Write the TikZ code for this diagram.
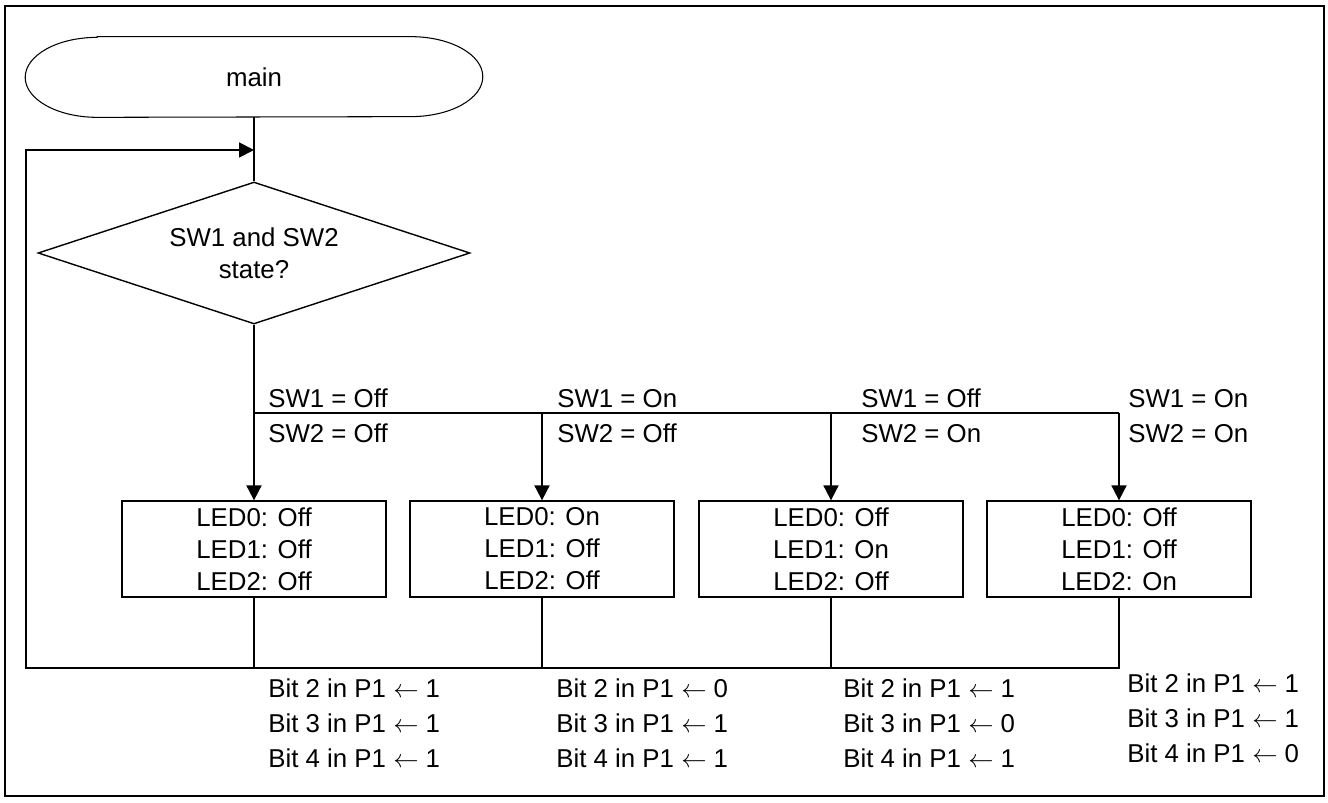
\documentclass[tikz,border=0pt]{standalone}
\usepackage{fontspec}
\setmainfont{Liberation Sans}
\usetikzlibrary{shapes.geometric,arrows.meta}
\begin{document}
\begin{tikzpicture}[x=.02cm,y=-.02cm,font=\fontsize{14.7}{18.2}\selectfont,
  thk/.style={line width=1.1pt},
  thn/.style={line width=.6pt},
  tip/.style={-{Triangle[length=8.5pt,width=8.5pt]}},
  decision/.style={diamond,draw,line width=.8pt,aspect=3,inner sep=0pt,minimum width=8.64cm,minimum height=2.84cm,align=center},
  ledbox/.style={draw,line width=.75pt,minimum width=5.28cm,minimum height=1.92cm,inner sep=0pt,align=center},
  cond/.style={anchor=base west,inner sep=0pt}]
  \useasboundingbox (0,0) rectangle (1328,803);
  \draw[line width=1.1pt] (5,6) rectangle (1324,796);
  \node[minimum width=9.14cm,minimum height=1.6cm,inner sep=0pt] (main) at (254,77) {main};
  \draw[thn] ([xshift=1.44cm]main.north west) -- ([xshift=-1.44cm]main.north east)
    arc[start angle=90,end angle=-90,x radius=1.44cm,y radius=.8cm]
    -- ([xshift=1.44cm]main.south west)
    arc[start angle=270,end angle=90,x radius=1.44cm,y radius=.8cm] -- cycle;
  \node[decision] (dec) at (254,253) {SW1 and SW2\\state?};
  \node[ledbox] (led1) at (254,549) {LED0: Off\\LED1: Off\\LED2: Off};
  \node[ledbox] (led2) at (542,549) {LED0: On\\LED1: Off\\LED2: Off};
  \node[ledbox] (led3) at (831,549) {LED0: Off\\LED1: On\\LED2: Off};
  \node[ledbox] (led4) at (1119,549) {LED0: Off\\LED1: Off\\LED2: On};
  \coordinate (bus) at (254,413);
  \coordinate (ret) at (26,668);
  \coordinate (loop) at (26,150);
  \draw[thn] (main.south) -- (dec.north);
  \draw[thk] (dec.south) -- (bus) -- (bus -| led4.north);
  \foreach \i in {1,...,4} \draw[thk,tip] (bus -| led\i.north) -- (led\i.north);
  \foreach \i in {1,2,3} \draw[thn] (led\i.south) -- (led\i.south |- ret);
  \draw[thn] (led4.south) -- (led4.south |- ret) -- (led3.south |- ret);
  \draw[thk,tip] (led3.south |- ret) -- (ret) -- (loop) -- (main.south |- loop);
  \node[cond] (c1a) at (268,408) {SW1 = Off}; \node[cond] (c1b) at (268,443) {SW2 = Off};
  \node[cond] (c2a) at (557,408) {SW1 = On};  \node[cond] (c2b) at (557,443) {SW2 = Off};
  \node[cond] (c3a) at (861,408) {SW1 = Off}; \node[cond] (c3b) at (861,443) {SW2 = On};
  \node[cond] (c4a) at (1128,408) {SW1 = On}; \node[cond] (c4b) at (1128,443) {SW2 = On};
  \foreach \n/\x/\y/\a/\b/\c in {1/268/697/1/1/1,2/556/697/0/1/1,3/843/697/1/0/1,4/1127/692/1/1/0}{
    \node[cond] (p\n a) at (\x,\y) {Bit 2 in P1 $\leftarrow$ \a};
    \node[cond] (p\n b) at (\x,\y+35) {Bit 3 in P1 $\leftarrow$ \b};
    \node[cond] (p\n c) at (\x,\y+70) {Bit 4 in P1 $\leftarrow$ \c};
  }
\end{tikzpicture}
\end{document}
